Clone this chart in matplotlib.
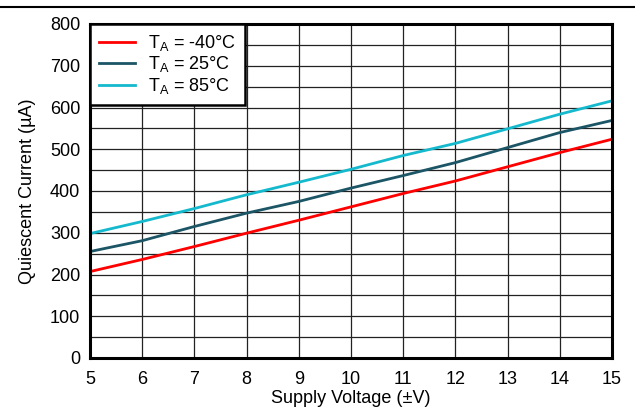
import matplotlib
matplotlib.use("Agg")
import matplotlib.pyplot as plt
from matplotlib.lines import Line2D
from matplotlib.ticker import MultipleLocator

plt.rcParams['font.family'] = ['Liberation Sans', 'DejaVu Sans']
plt.rcParams['mathtext.default'] = 'regular'

voltage = [5, 6, 7, 8, 9, 10, 11, 12, 13, 14, 15]
i_m40 = [207, 236, 267, 299, 330, 362, 394, 424, 458, 492, 524]
i_25 = [255, 281, 315, 347, 375, 407, 437, 468, 504, 540, 569]
i_85 = [298, 327, 358, 391, 421, 452, 485, 514, 549, 584, 616]
labels = ['T$_A$ = -40°C', 'T$_A$ = 25°C', 'T$_A$ = 85°C']
colors = ['#FF0000', '#1B5566', '#14B9CD']

fig = plt.figure(figsize=(6.35, 4.07), dpi=100)
ax = fig.add_axes([90/635, 1-358/407, (612-90)/635, (358-24)/407])

for y, lab, c in zip([i_m40, i_25, i_85], labels, colors):
    ax.plot(voltage, y, color=c, lw=2, label=lab, zorder=3)

ax.set_xlim(5, 15)
ax.set_ylim(0, 800)
ax.xaxis.set_major_locator(MultipleLocator(1))
ax.yaxis.set_major_locator(MultipleLocator(100))
ax.yaxis.set_minor_locator(MultipleLocator(50))
ax.grid(True, which='both', color='#222222', lw=0.9)
ax.tick_params(which='both', length=0, labelsize=13)
ax.tick_params(axis='x', pad=9)
ax.tick_params(axis='y', pad=7)
for s in ax.spines.values():
    s.set_linewidth(2.2)
    s.set_zorder(5)

ax.set_xlabel('Supply Voltage (±V)', fontsize=13, labelpad=2)
ax.set_ylabel('Quiescent Current (µA)', fontsize=13, labelpad=10)

leg = ax.legend(loc='upper left', fontsize=13, frameon=True, fancybox=False,
                borderaxespad=0, handlelength=2.0, handletextpad=0.7,
                labelspacing=0.08, borderpad=0.5)
leg.get_frame().set_edgecolor('black')
leg.get_frame().set_linewidth(1.8)
leg.get_frame().set_alpha(1)
leg.set_zorder(6)

fig.add_artist(Line2D([0, 1], [1-7/407, 1-7/407], color='black', lw=1.5, transform=fig.transFigure))

fig.savefig('out.png', dpi=100)
